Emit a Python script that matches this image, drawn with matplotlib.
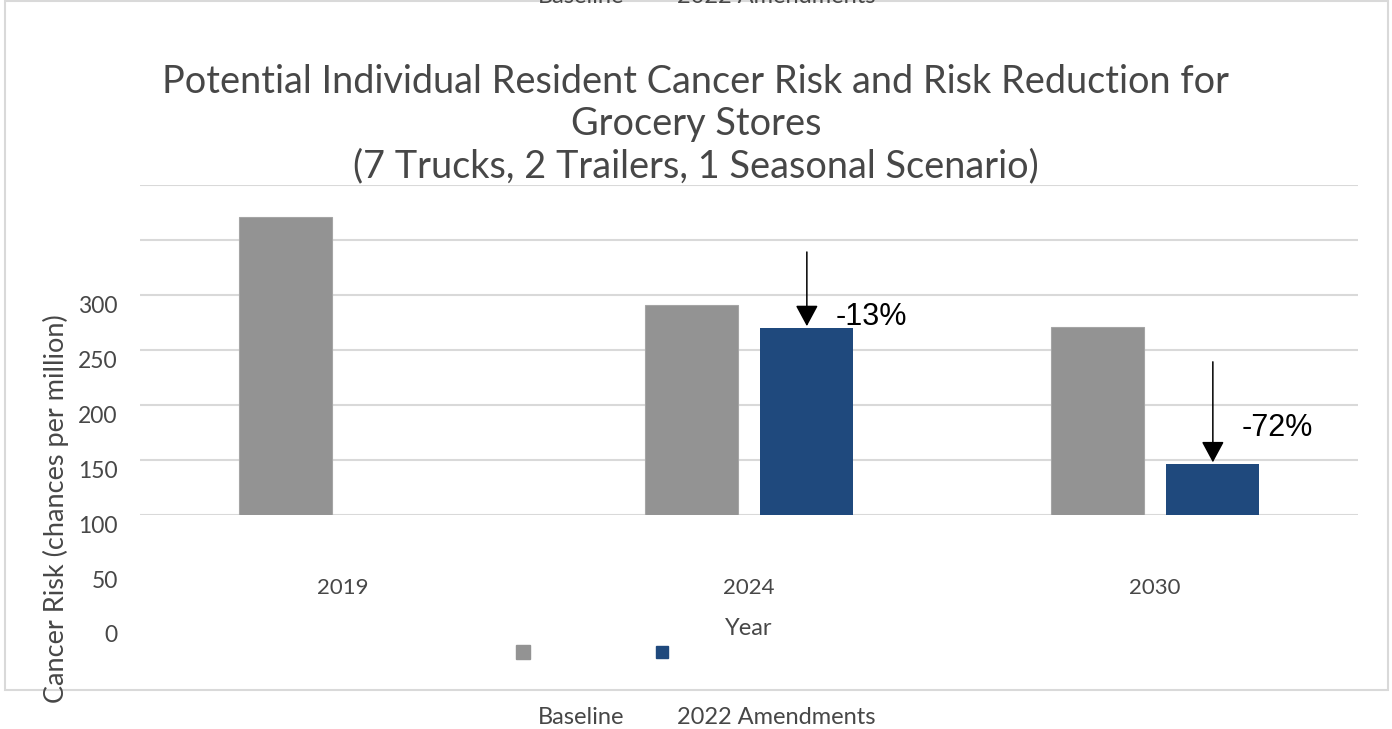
""" Cancer risk bar chart for grocery stores, baseline vs. 2022 amendments.

Layout is kept as it came out of the spreadsheet export (labels shifted)."""

import matplotlib
matplotlib.use("Agg")
import matplotlib.pyplot as plt
from matplotlib.lines import Line2D
from matplotlib.patches import Rectangle
import numpy as np

plt.rcParams.update({"font.family": ["Lato", "DejaVu Sans"],
                     "axes.titleweight": "regular"})

# data
years = ["2019", "2024", "2030"]
series = ["Baseline", "2022 Amendments"]
baseline = [271, 191, 171]
amendments = [np.nan, 170, 46]
reductions = ["", "-13%", "-72%"]
arrow_start = [np.nan, 239, 139]   # where the reduction arrows begin
label_y = [np.nan, 180, 79]        # height of the reduction labels
yticks = [0, 50, 100, 150, 200, 250, 300]
title = ("Potential Individual Resident Cancer Risk and Risk Reduction for\n"
         "Grocery Stores\n(7 Trucks, 2 Trailers, 1 Seasonal Scenario)")

colors = ["#939393", "#1f497d"]
text_col = "#474747"
grid_col = "#d9d9d9"

W, H = 1392, 729
fig = plt.figure(figsize=(W / 100, H / 100), dpi=100)


def box(left, top, right, bottom):
    # pixel box -> figure fraction
    return [left / W, 1 - bottom / H, (right - left) / W, (bottom - top) / H]


# plot area
ax = fig.add_axes(box(140, 185, 1358, 514.5))
x = np.arange(len(years))
width = 0.2285
off = 0.1425
ax.bar(x - off, baseline, width, color=colors[0], edgecolor="#a5a5a5",
       linewidth=0.8, zorder=3)
ax.bar(x + off, amendments, width, color=colors[1], zorder=3)

ax.set_xlim(-0.5, 2.5)
ax.set_ylim(0, 300)
ax.set_yticks(yticks)
ax.set_yticklabels([])
ax.grid(axis="y", color=grid_col, linewidth=1.5, zorder=0)
for s in ax.spines.values():
    s.set_visible(False)
ax.tick_params(length=0)
ax.set_xticks(x)
ax.set_xticklabels(years, fontsize=16, color=text_col)
ax.tick_params(axis="x", pad=46)
ax.set_xlabel("Year", fontsize=17, color=text_col, labelpad=14)

# reduction arrows and labels
for i in range(len(years)):
    if not reductions[i]:
        continue
    ax.annotate("", xy=(x[i] + off, amendments[i] + 1.5),
                xytext=(x[i] + off, arrow_start[i]),
                arrowprops=dict(arrowstyle="-|>,head_length=0.65,head_width=0.35",
                                color="black", lw=1.1, mutation_scale=20,
                                shrinkA=0, shrinkB=0), zorder=5)
    ax.text(x[i] + off + 0.072, label_y[i], reductions[i], fontsize=22,
            family=["Liberation Sans", "DejaVu Sans"], color="black",
            ha="left", va="center", zorder=5)

# value axis labels sit lower than the gridlines
ax2 = fig.add_axes(box(140, 304.5, 1358, 634))
ax2.set_ylim(0, 300)
ax2.set_yticks(yticks)
ax2.set_yticklabels([str(v) for v in yticks], fontsize=16.5, color=text_col)
ax2.tick_params(axis="y", length=0, pad=16)
ax2.set_xticks([])
ax2.patch.set_visible(False)
for s in ax2.spines.values():
    s.set_visible(False)

fig.text(56 / W, 1 - 509 / H, "Cancer Risk (chances per million)",
         rotation=90, fontsize=19.5, color=text_col, ha="center", va="center")

fig.text(0.5, 1 - 124 / H, title, fontsize=27.3, color=text_col, ha="center",
         va="center", linespacing=1.22)

# legend: markers inside the frame, names below it (and wrapped at the top)
for xm, c, ms in [(523, colors[0], 10), (662, colors[1], 9)]:
    fig.add_artist(Line2D([xm / W], [1 - 652 / H], marker="s", color=c,
                          markersize=ms, linestyle="none"))
for yy in [718, -3]:
    fig.text(581 / W, 1 - yy / H, series[0], fontsize=17, color=text_col,
             ha="center", va="center")
    fig.text(776 / W, 1 - yy / H, series[1], fontsize=17, color=text_col,
             ha="center", va="center")

# chart frame
fig.add_artist(Rectangle((5 / W, 1 - 690 / H), 1383 / W, 689 / H,
                         fill=False, edgecolor=grid_col, linewidth=1.5,
                         transform=fig.transFigure, zorder=0))

fig.savefig("out.png", dpi=100)
